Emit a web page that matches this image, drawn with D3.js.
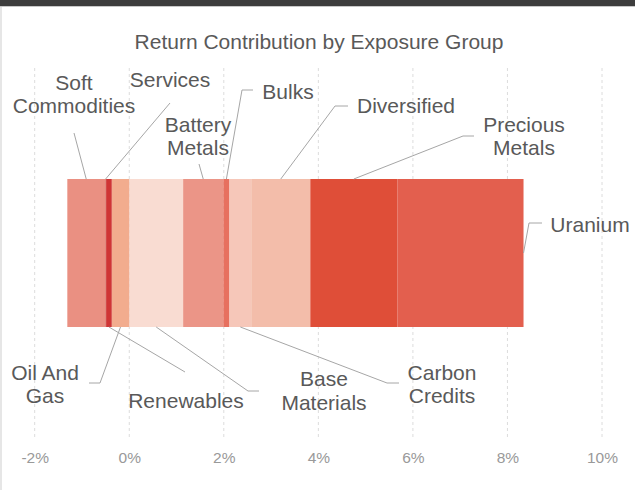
<!DOCTYPE html>
<html>
<head>
<meta charset="utf-8">
<script src="https://cdn.jsdelivr.net/npm/d3@7"></script>
<style>
  body { margin: 0; background: #fff; }
  svg { display: block; font-family: "Liberation Sans", Arial, sans-serif; }
</style>
</head>
<body>
<div id="chart"></div>
<script>
// exposure groups, in stacking order (alphabetical)
var groups = ['Base Materials', 'Battery Metals', 'Bulks', 'Carbon Credits', 'Diversified',
  'Oil And Gas', 'Precious Metals', 'Renewables', 'Services', 'Soft Commodities', 'Uranium']
// return contribution, %
var values = [1.14, 0.85, 0.13, 0.46, 1.25, -0.37, 1.84, -0.12, -0.02, -0.80, 2.67]
var colors = ['#f9dcd2', '#eb9587', '#e7705f', '#f6c7b9', '#f3bdaa',
  '#f2ac8e', '#df4e38', '#cf3535', '#d9786b', '#ea9082', '#e35f4e']
var tickValues = [-2, 0, 2, 4, 6, 8, 10]

// label placement: side of bar, text centre / baselines, leader elbow points
var labelLayout = {
  'Soft Commodities': { side: 'top', x: 74, y: [90, 113], elbow: [[74, 133]] },
  'Services': { side: 'top', x: 170, y: [87], elbow: [[170, 103]] },
  'Battery Metals': { side: 'top', x: 198, y: [132, 155], elbow: [[199, 164]] },
  'Bulks': { side: 'top', x: 288, y: [99], elbow: [[242, 90], [253, 90]] },
  'Diversified': { side: 'top', x: 406, y: [113], elbow: [[335, 106], [348, 106]] },
  'Precious Metals': { side: 'top', x: 524, y: [132, 155], elbow: [[463, 136], [474, 136]] },
  'Uranium': { side: 'right', x: 590, y: [232], elbow: [[529, 223], [542, 223]] },
  'Oil And Gas': { side: 'bottom', x: 45, y: [380, 403], elbow: [[100, 383], [89, 383]] },
  'Renewables': { side: 'bottom', x: 186, y: [408], elbow: [[185, 372]] },
  'Base Materials': { side: 'bottom', x: 324, y: [386, 410], elbow: [[248, 391], [259, 391]] },
  'Carbon Credits': { side: 'bottom', x: 442, y: [380, 403], elbow: [[387, 383], [399, 383]] }
}
var lineBreaks = {
  'Soft Commodities': ['Soft', 'Commodities'],
  'Battery Metals': ['Battery', 'Metals'],
  'Precious Metals': ['Precious', 'Metals'],
  'Oil And Gas': ['Oil And', 'Gas'],
  'Base Materials': ['Base', 'Materials'],
  'Carbon Credits': ['Carbon', 'Credits']
}

var W = 635, H = 490
var svg = d3.select('#chart').append('svg').attr('width', W).attr('height', H)

// frame
svg.append('rect').attr('x', 0).attr('y', 0).attr('width', W).attr('height', 6).style('fill', '#3d3d3d')
svg.append('rect').attr('x', 0).attr('y', 6).attr('width', W).attr('height', 1).style('fill', '#c8c8c8')
svg.append('rect').attr('x', 0).attr('y', 7).attr('width', 2).attr('height', H - 7).style('fill', '#e6e6e6')

svg.append('text')
  .attr('x', 319).attr('y', 49)
  .attr('text-anchor', 'middle')
  .style('font-size', '21px')
  .style('fill', '#595959')
  .text('Return Contribution by Exposure Group')

var plotTop = 68, plotBottom = 438
var x = d3.scaleLinear().domain([-2, 10]).range([34.7, 602])
var y = d3.scaleBand().domain(['all']).range([plotTop, plotBottom]).paddingInner(0.6).paddingOuter(0.3)

// gridlines
svg.append('g').selectAll('line')
  .data(tickValues)
  .enter().append('line')
  .attr('x1', function(d) { return x(d) }).attr('x2', function(d) { return x(d) })
  .attr('y1', plotTop).attr('y2', plotBottom)
  .style('stroke', '#dcdcdc')
  .style('stroke-dasharray', '3,3')

// axis
var xaxis = svg.append('g')
  .attr('transform', 'translate(0,' + plotBottom + ')')
  .call(d3.axisBottom(x).tickValues(tickValues).tickSize(0).tickPadding(14)
    .tickFormat(function(d) { return d + '%' }))
xaxis.select('.domain').remove()
xaxis.selectAll('text')
  .style('font-size', '15.5px')
  .style('fill', '#999')
  .style('font-family', '"Liberation Sans", Arial, sans-serif')

// stack: positives from 0 rightward, negatives from 0 leftward
var posSum = 0, negSum = 0
var segs = groups.map(function(g, i) {
  var v = values[i], s
  if (v >= 0) { s = { name: g, x0: posSum, x1: posSum + v }; posSum += v }
  else { s = { name: g, x0: negSum + v, x1: negSum }; negSum += v }
  s.color = colors[i]
  return s
})

var barY = y('all'), barH = y.bandwidth()
svg.append('g').selectAll('rect')
  .data(segs)
  .enter().append('rect')
  .attr('x', function(d) { return x(d.x0) })
  .attr('y', barY)
  .attr('width', function(d) { return x(d.x1) - x(d.x0) })
  .attr('height', barH)
  .style('fill', function(d) { return d.color })

// leader lines + labels
var lbl = svg.append('g')
segs.forEach(function(d) {
  var L = labelLayout[d.name]
  var start
  if (L.side === 'top') start = [x((d.x0 + d.x1) / 2), barY]
  else if (L.side === 'bottom') start = [x((d.x0 + d.x1) / 2), barY + barH]
  else start = [x(d.x1), barY + barH / 2]
  lbl.append('path')
    .attr('d', d3.line()([start].concat(L.elbow)))
    .style('fill', 'none')
    .style('stroke', '#a6a6a6')
    .style('stroke-width', 1)
  var lines = lineBreaks[d.name] || [d.name]
  lines.forEach(function(t, j) {
    lbl.append('text')
      .attr('x', L.x).attr('y', L.y[j])
      .attr('text-anchor', 'middle')
      .style('font-size', '21px')
      .style('fill', '#595959')
      .text(t)
  })
})
</script>
</body>
</html>
